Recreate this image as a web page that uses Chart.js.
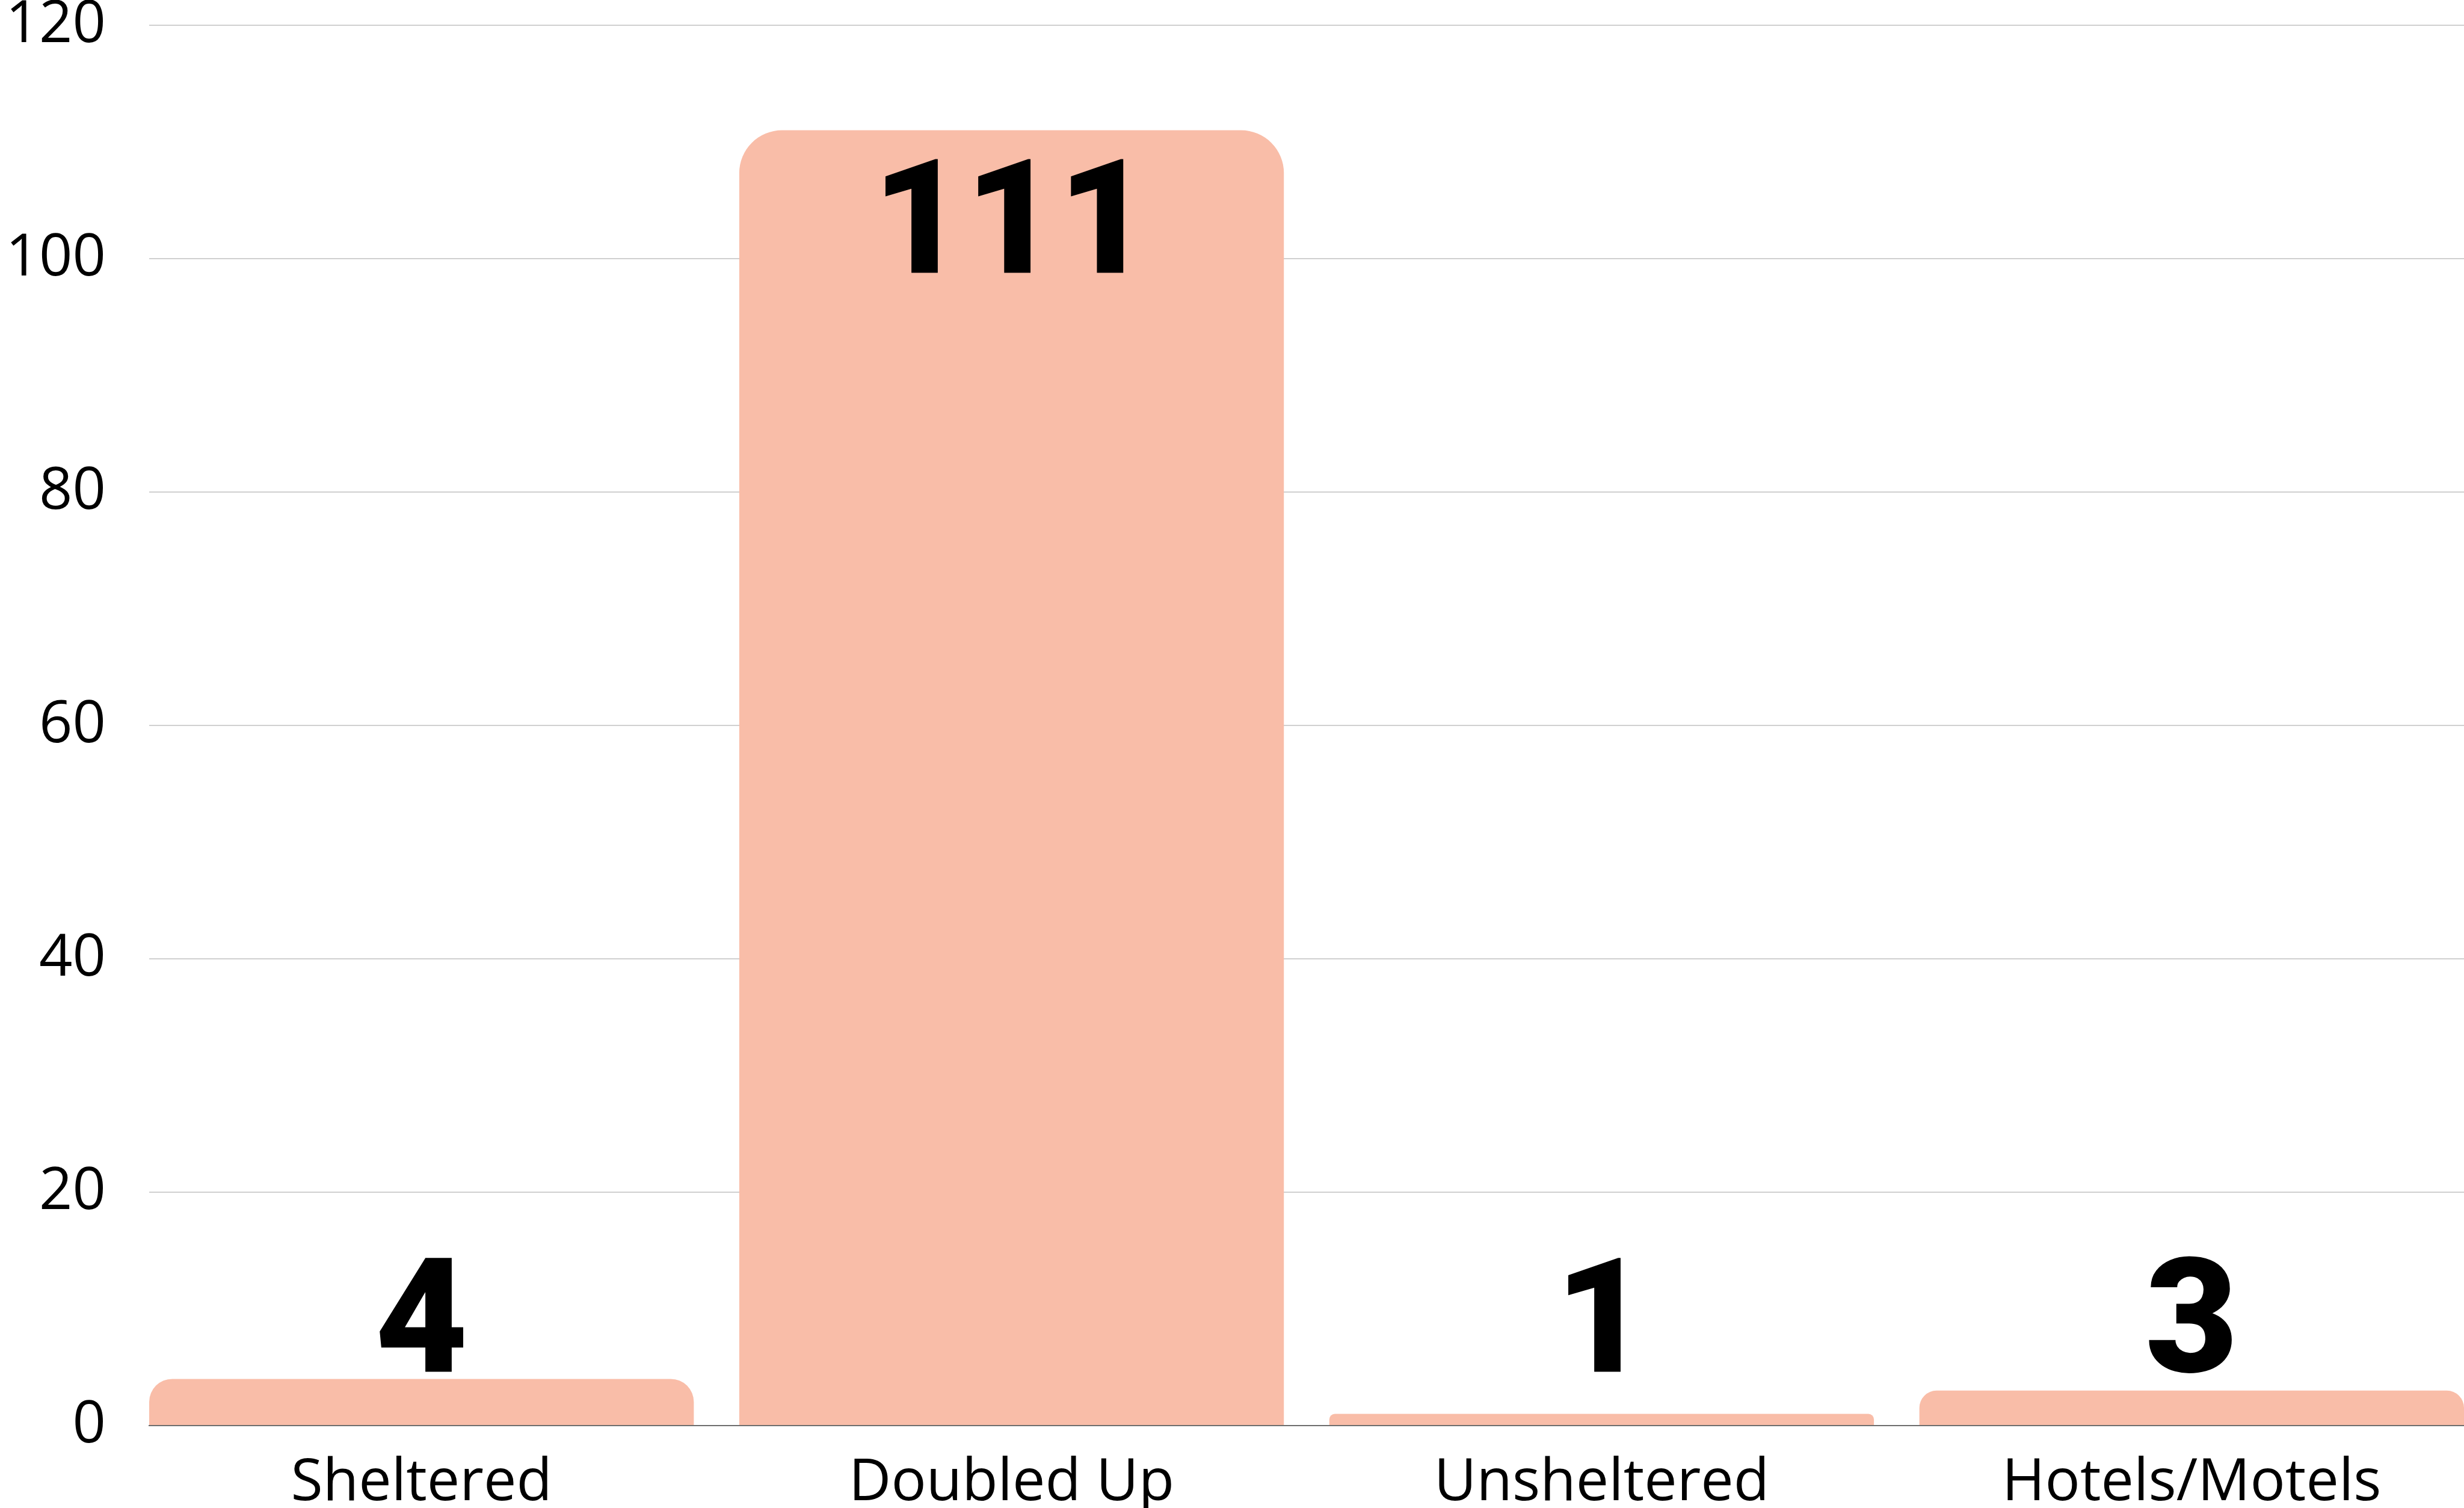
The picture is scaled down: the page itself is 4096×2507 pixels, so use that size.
<!DOCTYPE html>
<html>
<head>
<meta charset="utf-8">
<script src="https://cdn.jsdelivr.net/npm/chart.js@4.4.1/dist/chart.umd.min.js"></script>
<style>
  html, body { margin: 0; padding: 0; background: #fff; }
  #wrap { width: 4096px; height: 2507px; position: relative; }
</style>
</head>
<body>
<div id="wrap"><canvas id="housingChart"></canvas></div>
<script>
const categories = ['Sheltered', 'Doubled Up', 'Unsheltered', 'Hotels/Motels'];
const counts = [4, 111, 1, 3];
const yTicks = [0, 20, 40, 60, 80, 100, 120];

const barColor = 'rgb(249, 189, 168)';
const barPct = 0.923;

// labels of short bars all sit at the level of the "4" bar
const labelFloorValue = 4;

const valueLabels = {
  id: 'valueLabels',
  afterDatasetsDraw(chart) {
    const ctx = chart.ctx;
    const yScale = chart.scales.y;
    const floor = yScale.getPixelForValue(labelFloorValue);
    const meta = chart.getDatasetMeta(0);
    ctx.save();
    ctx.font = '900 266px Roboto';
    ctx.fillStyle = '#000';
    ctx.textAlign = 'center';
    ctx.textBaseline = 'alphabetic';
    meta.data.forEach((bar, i) => {
      const h = bar.base - bar.y;
      let ty;
      if (h > 400) {
        ty = bar.y + 237;  // inside the tall bar
      } else {
        ty = Math.min(bar.y, floor) - 12;
      }
      ctx.fillText(String(counts[i]), bar.x, ty);
    });
    ctx.restore();
  }
};

const ctx = document.getElementById('housingChart').getContext('2d');

new Chart(ctx, {
  type: 'bar',
  data: {
    datasets: [{
      data: counts.map((v, i) => ({ x: i, y: v })),
      backgroundColor: barColor,
      borderWidth: 0,
      borderRadius: 71,
      borderSkipped: 'start',
      categoryPercentage: 1,
      barPercentage: barPct
    }]
  },
  options: {
    responsive: true,
    maintainAspectRatio: false,
    devicePixelRatio: 1,
    animation: false,
    layout: {
      padding: { top: 42, right: 0, bottom: 0, left: 0 }
    },
    plugins: {
      legend: { display: false },
      tooltip: { enabled: false }
    },
    scales: {
      x: {
        type: 'linear',
        offset: false,
        // bars run edge to edge of the plot area
        min: -barPct / 2,
        max: categories.length - 1 + barPct / 2,
        afterBuildTicks(scale) {
          scale.ticks = categories.map((c, i) => ({ value: i }));
        },
        grid: { display: false, drawTicks: false },
        border: { display: true, color: '#6e6e6e', width: 2 },
        ticks: {
          color: '#000',
          padding: 38,
          font: { family: 'Open Sans', size: 97, lineHeight: 1.2 },
          callback: (value) => categories[value]
        },
        afterFit(scale) {
          scale.height = 137;
          scale.paddingLeft = 0;
          scale.paddingRight = 0;
        }
      },
      y: {
        min: 0,
        max: 120,
        afterBuildTicks(scale) {
          scale.ticks = yTicks.map(v => ({ value: v }));
        },
        grid: { color: '#d0d0d0', lineWidth: 2, drawTicks: false },
        border: { display: false },
        ticks: {
          color: '#000',
          padding: 72,
          font: { family: 'Open Sans', size: 97, lineHeight: 0.8 }
        },
        afterFit(scale) {
          scale.width = 248;
          scale.paddingTop = 0;
          scale.paddingBottom = 0;
        }
      }
    }
  },
  plugins: [valueLabels]
});
</script>
</body>
</html>
